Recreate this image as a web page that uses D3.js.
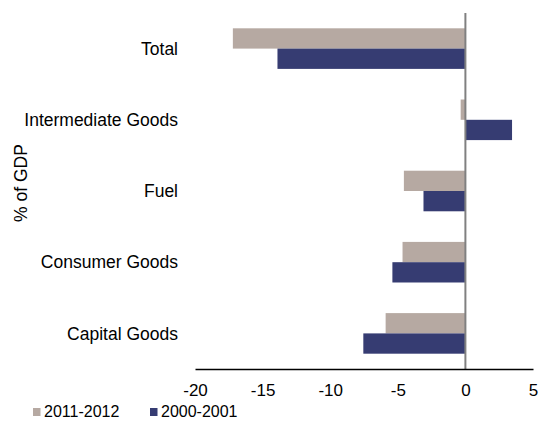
<!DOCTYPE html>
<html lang="en">
<head>
  <meta charset="UTF-8">
  <title>Balance by category, % of GDP</title>
  <script src="https://d3js.org/d3.v7.min.js"></script>
  <style>
    * { margin: 0; padding: 0; box-sizing: border-box; }
    body { background: #fff; font-family: "Liberation Sans", Arial, sans-serif; }
    svg { display: block; }
  </style>
</head>
<body>
  <div id="chart"></div>

  <script>
    // Data
    const categories = ['Total', 'Intermediate Goods', 'Fuel', 'Consumer Goods', 'Capital Goods'];
    const seriesNames = ['2011-2012', '2000-2001'];
    const values2011 = [-17.2, -0.35, -4.55, -4.65, -5.9];
    const values2000 = [-13.9, 3.45, -3.1, -5.4, -7.55];
    const xTicks = [-20, -15, -10, -5, 0, 5];
    const colors = ['#b6a9a2', '#363c72'];

    const width = 540;
    const height = 421;

    const rows = categories.map((c, i) => ({ cat: c, vals: [values2011[i], values2000[i]] }));

    const svg = d3.select('#chart')
      .append('svg')
      .attr('width', width)
      .attr('height', height);

    // Scales
    const x = d3.scaleLinear().domain([-20, 5]).range([195, 533]);
    const y = d3.scaleBand().domain(categories).range([13, 369])
      .paddingInner(0.43).paddingOuter(0.215);
    const ySub = d3.scaleBand().domain(seriesNames).range([0, y.bandwidth()]);

    // Bars
    const groups = svg.selectAll('g.cat')
      .data(rows)
      .enter()
      .append('g')
      .attr('class', 'cat')
      .attr('transform', d => `translate(0, ${y(d.cat)})`);

    groups.selectAll('rect')
      .data(d => d.vals.map((v, i) => ({ v, s: seriesNames[i], i })))
      .enter()
      .append('rect')
      .attr('x', d => x(Math.min(0, d.v)))
      .attr('width', d => Math.abs(x(d.v) - x(0)))
      .attr('y', d => ySub(d.s))
      .attr('height', ySub.bandwidth())
      .attr('fill', d => colors[d.i]);

    // Zero line
    svg.append('line')
      .attr('x1', x(0)).attr('x2', x(0))
      .attr('y1', 13).attr('y2', 369)
      .attr('stroke', '#808080')
      .attr('stroke-width', 2);

    // X axis (plain hyphen for negatives, as in the original)
    const xAxis = svg.append('g')
      .attr('transform', 'translate(0, 369)')
      .call(d3.axisBottom(x).tickValues(xTicks).tickSize(0).tickPadding(15).tickFormat(d => String(d)));
    xAxis.select('.domain').attr('stroke', '#000').attr('stroke-width', 1.5);
    xAxis.selectAll('text')
      .attr('font-family', '"Liberation Sans", Arial, sans-serif')
      .attr('font-size', 17)
      .attr('fill', '#000');

    // Category labels
    svg.append('g')
      .selectAll('text')
      .data(categories)
      .enter()
      .append('text')
      .attr('x', 178)
      .attr('y', d => y(d) + y.bandwidth() / 2)
      .attr('dy', '0.35em')
      .attr('text-anchor', 'end')
      .attr('font-size', 17.5)
      .attr('fill', '#000')
      .text(d => d);

    // Y axis title
    svg.append('text')
      .attr('transform', 'translate(27, 183) rotate(-90)')
      .attr('text-anchor', 'middle')
      .attr('font-size', 17.5)
      .attr('fill', '#000')
      .text('% of GDP');

    // Legend
    const legendX = [33, 150];
    const legend = svg.append('g')
      .selectAll('g')
      .data(seriesNames)
      .enter()
      .append('g')
      .attr('transform', (d, i) => `translate(${legendX[i]}, 408)`);

    legend.append('rect')
      .attr('width', 7.5)
      .attr('height', 8)
      .attr('fill', (d, i) => colors[i]);

    legend.append('text')
      .attr('x', 11)
      .attr('y', 9)
      .attr('font-size', 16)
      .attr('fill', '#000')
      .text(d => d);
  </script>
</body>
</html>
